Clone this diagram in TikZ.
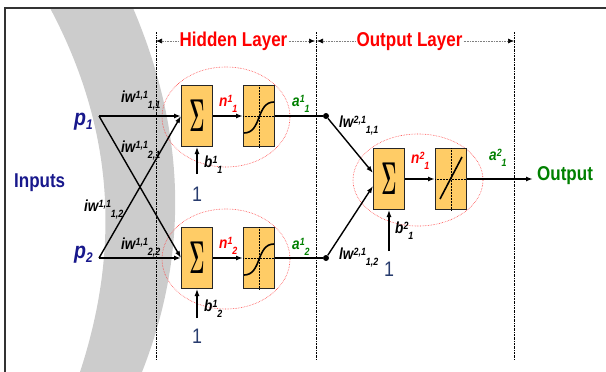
\documentclass[tikz,border=0pt]{standalone}
\usepackage{fontspec}
\usepackage{graphicx}
\usetikzlibrary{positioning,arrows.meta}
\newfontfamily\nar[FakeStretch=0.85]{Liberation Sans}
\definecolor{boxfill}{RGB}{255,204,102}
\definecolor{navy}{RGB}{24,24,140}
\definecolor{dkgreen}{RGB}{0,128,0}
\definecolor{band}{RGB}{204,204,204}
\definecolor{onecol}{RGB}{40,60,110}
\newcommand{\wlab}[3]{#1\raisebox{4pt}{\fontsize{10.5}{10.5}\selectfont #2}\raisebox{-6pt}{\fontsize{10.5}{10.5}\selectfont #3}}
\newcommand{\sumsym}{\scalebox{0.75}[1.85]{\fontsize{24.88}{25}\selectfont\boldmath$\Sigma$}}

\begin{document}
\begin{tikzpicture}[x=1pt,y=-1pt,>={Latex[length=7pt,width=5pt]},node distance=62pt,font=\nar]
	\tikzstyle{box}=[draw=black!85,fill=boxfill,line width=1pt,minimum width=31pt,minimum height=61pt,inner sep=0pt]
	\tikzstyle{wire}=[line width=1.4pt]
	\tikzstyle{guide}=[line width=0.5pt,dash pattern=on 2pt off 1pt on 0.5pt off 1pt]
	\tikzstyle{span}=[gray,line width=0.6pt,densely dotted,>={Latex[black,length=6pt,width=5pt]}]
	\tikzstyle{ring}=[red!75,line width=0.6pt,densely dotted]
	\tikzstyle{headtxt}=[inner sep=1pt,font=\nar\bfseries\fontsize{20}{20}\selectfont]
	\tikzstyle{lbl}=[anchor=base west,inner sep=0pt,font=\nar\bfseries\itshape\fontsize{16}{16}\selectfont]
	\tikzstyle{inp}=[anchor=base west,inner sep=0pt,navy,font=\nar\bfseries\itshape\fontsize{23}{23}\selectfont]
	\tikzstyle{one}=[anchor=base,inner sep=0pt,onecol,font=\nar\fontsize{21}{21}\selectfont]
	\tikzstyle{dot}=[circle,fill,inner sep=0pt,minimum size=6pt]
	\useasboundingbox (0,0) rectangle (606,372);
	\fill[band] (50,8) .. controls (115,130) and (120,250) .. (80,372) -- (142,372) .. controls (190,250) and (185,130) .. (133,8) -- cycle;
	\draw[line width=1.5pt,black!80] (606,8) -- (5,8) -- (5,372);
	\foreach \x/\n in {156/1,316/2,514/3}{
		\coordinate (vt\n) at (\x,32);
		\coordinate (vb\n) at (\x,360);
		\draw[guide] (vt\n) -- (vb\n);
	}
	\node[headtxt,red,anchor=base] (hid) at (233.5,46) {Hidden Layer};
	\node[headtxt,red,anchor=base] (outlay) at (409.5,46) {Output Layer};
	\coordinate (hl) at (156,41);
	\coordinate (hr) at (315,41);
	\coordinate (ol) at (317,41);
	\coordinate (or) at (514,41);
	\draw[span,<-] (hl) -- (hl -| hid.west);
	\draw[span,->] (hr -| hid.east) -- (hr);
	\draw[span,<-] (ol) -- (ol -| outlay.west);
	\draw[span,->] (or -| outlay.east) -- (or);
	\draw[ring] (226,117) ellipse [x radius=64pt,y radius=50pt];
	\draw[ring] (226,259) ellipse [x radius=64pt,y radius=50pt];
	\draw[ring] (418,180) ellipse [x radius=65pt,y radius=46pt];
		\node[box] (s1) at (197,116) {\sumsym};
		\node[box] (g1) [right of=s1] {};
		\node[box] (s2) [below of=s1,node distance=142pt] {\sumsym};
		\node[box] (g2) [right of=s2] {};
		\node[box] (os) at (389,179) {\sumsym};
		\node[box] (lin) [right of=os] {};
		\node[dot] (d1) at (326,116) {};
		\node[dot] (d2) at (326,258) {};
		\coordinate (i1) at (99,116);
		\coordinate (i2) at (99,258);
		\coordinate (c1) at (197,174);
		\coordinate (c2) at (197,318);
		\coordinate (c3) at (389,251);
		\coordinate (out) at (533,179);
	\foreach \g in {g1,g2}{
		\draw[densely dotted,line width=0.5pt] (\g.north) -- (\g.south);
		\draw[densely dotted,line width=0.5pt] (\g.west) -- (\g.east);
		\draw[line width=1.6pt] ([shift={(-15,17)}]\g.center) .. controls ([shift={(3,17)}]\g.center) and ([shift={(-3,-14)}]\g.center) .. ([shift={(15,-14)}]\g.center);
	}
	\draw[densely dotted,line width=0.5pt] (lin.north) -- (lin.south);
	\draw[densely dotted,line width=0.5pt] (lin.west) -- (lin.east);
	\draw[line width=1.6pt] ([shift={(-11,20)}]lin.center) -- ([shift={(11,-22)}]lin.center);
			\draw[wire,->] (i1) -- (s1);
			\draw[wire,->] (i1) -- (s2.west);
			\draw[wire,->] (i2) -- (s2);
			\draw[wire,->] (i2) -- (s1.west);
			\draw[wire,->] (s1) -- (g1);
			\draw[wire,->] (s2) -- (g2);
			\draw[wire] (g1) -- (d1);
			\draw[wire] (g2) -- (d2);
			\draw[wire,->] (d1) -- ([yshift=6pt]os.west);
			\draw[wire,->] (d2) -- ([yshift=-7pt]os.west);
			\draw[wire,->] (os) -- (lin);
			\draw[wire,->] (lin) -- (out);
			\draw[line width=1.2pt,->] (c1) -- (s1);
			\draw[line width=1.2pt,->] (c2) -- (s2);
			\draw[line width=1.2pt,->] (c3) -- (os);
	\node[headtxt,navy,anchor=base west] (inl) at (13,187) {Inputs};
	\node[headtxt,dkgreen,anchor=base west] (outl) at (536,180) {Output};
	\node[inp] (p1) at (74,125) {p\raisebox{-4pt}{\fontsize{14}{14}\selectfont 1}};
	\node[inp] (p2) at (74,258) {p\raisebox{-4pt}{\fontsize{14}{14}\selectfont 2}};
	\node[lbl] (w11) at (121,102) {\wlab{iw}{1,1}{1,1}};
	\node[lbl] (w21) at (121,152) {\wlab{iw}{1,1}{2,1}};
	\node[lbl] (w12) at (84,211) {\wlab{iw}{1,1}{1,2}};
	\node[lbl] (w22) at (121,249) {\wlab{iw}{1,1}{2,2}};
	\node[lbl,red] (n1) at (219,106) {\wlab{n}{1}{1}};
	\node[lbl,red] (n2) at (219,248) {\wlab{n}{1}{2}};
	\node[lbl,dkgreen] (a1) at (292,106) {\wlab{a}{1}{1}};
	\node[lbl,dkgreen] (a2) at (292,249) {\wlab{a}{1}{2}};
	\node[lbl] (b1) at (204,167) {\wlab{b}{1}{1}};
	\node[lbl] (b2) at (204,311) {\wlab{b}{1}{2}};
	\node[lbl] (l11) at (339,127) {\wlab{lw}{2,1}{1,1}};
	\node[lbl] (l12) at (339,259) {\wlab{lw}{2,1}{1,2}};
	\node[lbl,red] (n3) at (411,163) {\wlab{n}{2}{1}};
	\node[lbl,dkgreen] (a3) at (489,160) {\wlab{a}{2}{1}};
	\node[lbl] (b3) at (395,233) {\wlab{b}{2}{1}};
	\node[one] (u1) at (197,201) {1};
	\node[one] (u2) at (197,343) {1};
	\node[one] (u3) at (389,276) {1};
\end{tikzpicture}
\end{document}
